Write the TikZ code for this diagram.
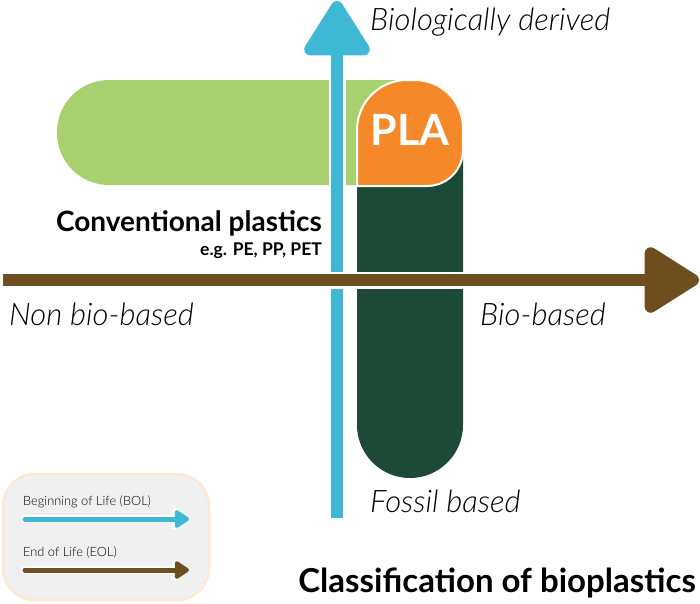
\documentclass[tikz,border=0pt]{standalone}
\usepackage{fontspec}
\setmainfont{Lato}
\newfontfamily\lightfont{Lato Light}
\usetikzlibrary{arrows.meta}
\definecolor{bolblue}{HTML}{3FB8D6}
\definecolor{eolbrown}{HTML}{6E4E1E}
\definecolor{lightgreen}{HTML}{A8D06E}
\definecolor{darkgreen}{HTML}{1D4A36}
\definecolor{plaorange}{HTML}{F5892A}
\definecolor{legendfill}{HTML}{F0F0F0}
\definecolor{legendedge}{HTML}{FDE9D2}
\begin{document}
\begin{tikzpicture}[x=1pt,y=-1pt,
axis/.style={line width=12pt, -{Triangle[length=60pt,width=72pt,round]}},
halo/.style={line width=17pt, white, -{Triangle[length=64pt,width=79pt,round]}},
leg/.style={line width=5pt, line cap=round, -{Triangle[length=16pt,width=20pt,round]}},
leghalo/.style={line width=8pt, white, line cap=round, -{Triangle[length=19pt,width=25pt,round]}},
lbl/.style={font=\lightfont\itshape\fontsize{31}{33}\selectfont, anchor=west, inner sep=0pt}
]
\useasboundingbox (0,0) rectangle (700,603);
%Regions
\fill[lightgreen, rounded corners=52pt] (395,80) -- (57,80) -- (57,185) [sharp corners] -- (395,185) -- cycle;
\fill[darkgreen, rounded corners=53pt] (357,150) -- (357,478) -- (463,478) [sharp corners] -- (463,150) -- cycle;
\filldraw[plaorange, draw=white, line width=2pt] (357,186) [rounded corners=50pt] -- (357,80) [rounded corners=48pt] -- (463,80) [rounded corners=36pt] -- (463,186) [sharp corners] -- cycle;
\node[text=white, font=\bfseries\fontsize{43}{45}\selectfont] (pla) at (410,130) {PLA};
%Axes
\coordinate (bolstart) at (337,518);
\coordinate (bolend)   at (337,1);
\coordinate (eolstart) at (3,280);
\coordinate (eolend)   at (699,280);
\draw[halo] (bolstart) -- (bolend);
\draw[axis, bolblue] (bolstart) -- (bolend);
\draw[halo] (eolstart) -- (eolend);
\draw[axis, eolbrown] (eolstart) -- (eolend);
%Labels
\node[lbl] (bio)    at (370,22)  {Biologically derived};
\node[lbl] (nonbio) at (9,314)   {Non bio-based};
\node[lbl] (biob)   at (480,314) {Bio-based};
\node[lbl] (fossil) at (370,501) {Fossil based};
\node[font=\bfseries\fontsize{28}{30}\selectfont, anchor=east, inner sep=0pt] (conv) at (322,223) {Conventional plastics};
\node[font=\bfseries\fontsize{17.5}{19}\selectfont, anchor=east, inner sep=0pt] (eg) at (322,251) {e.g. PE, PP, PET};
\node[font=\bfseries\fontsize{33}{35}\selectfont, anchor=east, inner sep=0pt] (title) at (696,583) {Classification of bioplastics};
%Legend
\filldraw[legendfill, draw=legendedge, line width=2.5pt, rounded corners=32pt] (3,474) rectangle (209,600);
\node[font=\lightfont\fontsize{12.8}{14}\selectfont, anchor=west, inner sep=0pt] (bol) at (23,502) {Beginning of Life (BOL)};
\node[font=\lightfont\fontsize{12.8}{14}\selectfont, anchor=west, inner sep=0pt] (eol) at (23,552) {End of Life (EOL)};
\coordinate (bola) at (25,519);
\coordinate (bolb) at (189,519);
\coordinate (eola) at (25,570);
\coordinate (eolb) at (189,570);
\draw[leghalo] (bola) -- (bolb);
\draw[leg, bolblue] (bola) -- (bolb);
\draw[leghalo] (eola) -- (eolb);
\draw[leg, eolbrown] (eola) -- (eolb);
\end{tikzpicture}
\end{document}
